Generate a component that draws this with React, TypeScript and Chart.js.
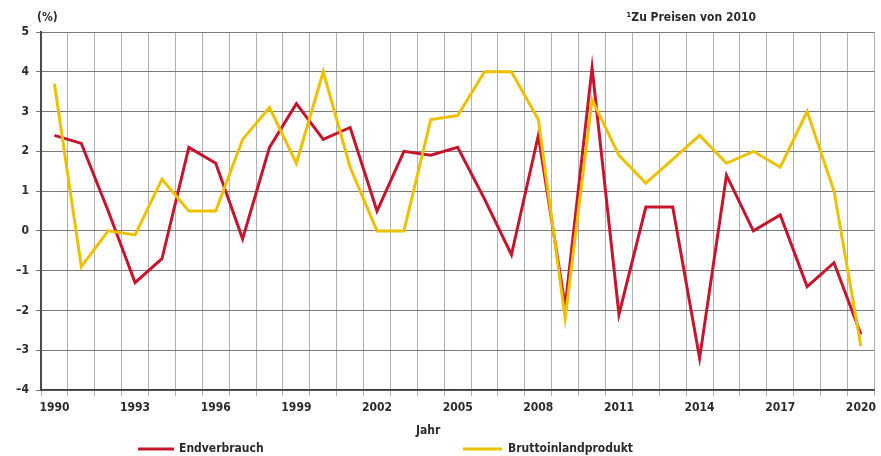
import React, { useEffect, useRef } from "react";
import { Chart, registerables } from "chart.js";

Chart.register(...registerables);

const years: string[] = [
  "1990", "1991", "1992", "1993", "1994", "1995", "1996", "1997", "1998", "1999",
  "2000", "2001", "2002", "2003", "2004", "2005", "2006", "2007", "2008", "2009",
  "2010", "2011", "2012", "2013", "2014", "2015", "2016", "2017", "2018", "2019", "2020",
];

const endverbrauch: number[] = [
  2.4, 2.2, 0.5, -1.3, -0.7, 2.1, 1.7, -0.2, 2.1, 3.2,
  2.3, 2.6, 0.5, 2.0, 1.9, 2.1, 0.8, -0.6, 2.4, -1.9,
  4.1, -2.1, 0.6, 0.6, -3.2, 1.4, 0.0, 0.4, -1.4, -0.8, -2.6,
];

const bip: number[] = [
  3.7, -0.9, 0.0, -0.1, 1.3, 0.5, 0.5, 2.3, 3.1, 1.7,
  4.0, 1.6, 0.0, 0.0, 2.8, 2.9, 4.0, 4.0, 2.8, -2.2,
  3.3, 1.9, 1.2, 1.8, 2.4, 1.7, 2.0, 1.6, 3.0, 1.0, -2.9,
];

const seriesNames: string[] = ["Endverbrauch", "Bruttoinlandprodukt"];
const unitLabel = "(%)";
const xTitle = "Jahr";
const noteText = "\u00b9Zu Preisen von 2010";

const RED = "#c5162e";
const YELLOW = "#edc100";
const FONT = "'DejaVu Sans Condensed', 'Liberation Sans Narrow', sans-serif";
const TEXT = "#2b2b2b";

const extrasPlugin = {
  id: "extras",
  afterDraw(chart: any) {
    const ctx = chart.ctx as CanvasRenderingContext2D;
    ctx.save();
    ctx.fillStyle = TEXT;
    ctx.textBaseline = "middle";
    ctx.font = `bold 12px ${FONT}`;
    ctx.textAlign = "left";
    ctx.fillText(unitLabel, 37, 18);
    ctx.textAlign = "right";
    ctx.fillText(noteText, 756, 18);
    ctx.textAlign = "left";
    ctx.fillText(xTitle, 416, 431);
    // legend
    const items = [
      { x1: 138, x2: 174, tx: 179, color: RED, label: seriesNames[0] },
      { x1: 463, x2: 502, tx: 508, color: YELLOW, label: seriesNames[1] },
    ];
    for (const it of items) {
      ctx.strokeStyle = it.color;
      ctx.lineWidth = 3;
      ctx.beginPath();
      ctx.moveTo(it.x1, 449);
      ctx.lineTo(it.x2, 449);
      ctx.stroke();
      ctx.fillStyle = TEXT;
      ctx.fillText(it.label, it.tx, 449);
    }
    ctx.restore();
  },
};

export default function App() {
  const ref = useRef<HTMLCanvasElement | null>(null);
  useEffect(() => {
    if (!ref.current) return;
    const chart = new Chart(ref.current, {
      type: "line",
      data: {
        labels: years,
        datasets: [
          {
            label: seriesNames[0],
            data: endverbrauch,
            borderColor: RED,
            backgroundColor: RED,
            borderWidth: 3,
            pointRadius: 0,
            tension: 0,
            order: 1,
          },
          {
            label: seriesNames[1],
            data: bip,
            borderColor: YELLOW,
            backgroundColor: YELLOW,
            borderWidth: 3,
            pointRadius: 0,
            tension: 0,
            order: 0,
          },
        ],
      },
      options: {
        responsive: false,
        animation: false,
        devicePixelRatio: 1,
        layout: { padding: { left: 0, right: 5, top: 32, bottom: 0 } },
        plugins: {
          legend: { display: false },
          tooltip: { enabled: false },
        },
        scales: {
          x: {
            type: "category",
            offset: true,
            grid: {
              offset: true,
              color: (c: any) => (c.index === years.length ? "#6a6a6a" : "#b0b0b0"),
              lineWidth: (c: any) => (c.index === years.length ? 1.5 : 1),
              tickLength: 6,
              drawTicks: true,
            },
            border: { color: "#3a3a3a", width: 1.5 },
            ticks: {
              autoSkip: false,
              maxRotation: 0,
              padding: 5,
              color: TEXT,
              font: { family: FONT, size: 12, weight: "bold" },
              callback: (_v: any, i: number) => (i % 3 === 0 ? years[i] : ""),
            },
            afterFit: (s: any) => {
              s.height = 66;
            },
          },
          y: {
            min: -4,
            max: 5,
            grid: {
              color: "#7a7a7a",
              lineWidth: 1,
              tickLength: 5,
            },
            border: { color: "#4a4a4a", width: 2 },
            ticks: {
              stepSize: 1,
              padding: 7,
              color: TEXT,
              font: { family: FONT, size: 12, weight: "bold" },
              callback: (v: any) => (v < 0 ? "\u2013" + Math.abs(v) : String(v)),
            },
            afterFit: (s: any) => {
              s.width = 41;
            },
          },
        },
      },
      plugins: [extrasPlugin],
    });
    return () => chart.destroy();
  }, []);
  return (
    <div style={{ position: "fixed", left: 0, top: 0, width: 881, height: 456, background: "#fff" }}>
      <canvas ref={ref} width={881} height={456} style={{ display: "block" }} />
    </div>
  );
}
